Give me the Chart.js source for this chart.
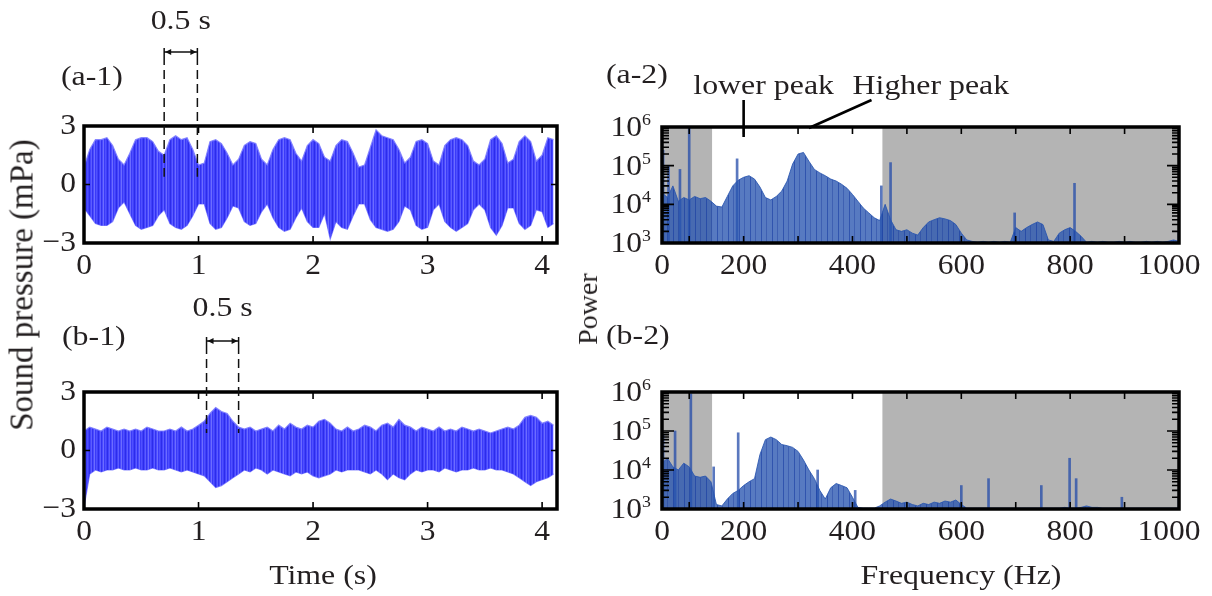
<!DOCTYPE html>
<html>
<head>
<meta charset="utf-8">
<script src="https://cdn.jsdelivr.net/npm/chart.js@4"></script>
<style>
  body { margin: 0; background: #fff; }
  #wrap { position: relative; width: 1212px; height: 596px; overflow: hidden; background: #fff; }
  canvas { position: absolute; left: 0; top: 0; }
  .t { position: absolute; font-family: 'Liberation Serif', 'Times New Roman', serif; color: #231f20; white-space: nowrap; line-height: 1; }
</style>
</head>
<body>
<div id="wrap">
  <canvas id="a1" width="1212" height="596"></canvas>
  <canvas id="b1" width="1212" height="596"></canvas>
  <canvas id="a2" width="1212" height="596"></canvas>
  <canvas id="b2" width="1212" height="596"></canvas>
  <div class="t" style="left:22px;top:285px;font-size:33px;transform:translate(-50%,-50%) rotate(-90deg);">Sound pressure (mPa)</div>
  <div class="t" style="left:588px;top:309px;font-size:28px;transform:translate(-50%,-50%) rotate(-90deg);">Power</div>
  <div class="t" style="left:323px;top:575px;font-size:27px;transform:translate(-50%,-50%) scaleX(1.18);">Time (s)</div>
  <div class="t" style="left:961px;top:575px;font-size:27px;transform:translate(-50%,-50%) scaleX(1.18);">Frequency (Hz)</div>
</div>
<script>
// ---- data ----
// waveform envelopes (mPa), one value every 0.05 s from 0 to 4.10 s
const tStep = 0.05;
const upA = [0.9,1.8,2.3,2.3,2.4,2.0,1.3,1.0,1.6,2.3, 2.4,2.4,2.2,1.7,1.5,2.3,2.5,2.3,2.4,1.8,
             1.0,1.1,2.2,2.3,2.1,1.6,1.0,1.3,2.0,2.2, 2.1,1.3,1.0,1.8,2.3,2.4,2.3,1.6,1.2,2.0,
             2.3,2.1,1.4,1.2,2.0,2.3,2.2,1.6,0.9,1.0, 1.9,2.8,2.5,2.4,2.3,1.8,1.1,1.4,2.2,2.3,
             2.1,1.2,1.0,2.0,2.3,2.4,2.3,2.0,1.2,1.0, 1.3,2.3,2.5,2.1,1.1,1.3,2.2,2.5,2.2,1.2,
             1.5,2.4,2.3];
const loA = [-1.2,-1.6,-2.0,-2.1,-2.1,-1.9,-1.2,-0.9,-1.5,-2.1, -2.3,-2.2,-2.1,-1.6,-1.3,-2.0,-2.2,-2.3,-2.1,-1.6,
             -1.0,-1.0,-2.0,-2.3,-2.2,-1.7,-1.1,-1.2,-1.9,-2.1, -2.0,-1.4,-1.0,-1.7,-2.2,-2.4,-2.3,-1.7,-1.2,-1.9,
             -2.2,-2.2,-1.5,-2.8,-1.9,-2.2,-2.3,-1.6,-1.0,-1.0, -1.8,-2.2,-2.3,-2.4,-2.3,-1.9,-1.1,-1.3,-2.1,-2.3,
             -2.2,-1.3,-1.0,-1.9,-2.2,-2.4,-2.2,-2.0,-1.3,-1.0, -1.3,-2.2,-2.6,-2.1,-1.2,-1.2,-2.0,-2.3,-2.1,-1.3,
             -1.4,-2.2,-2.0];
const upB = [1.0,1.2,1.1,1.0,1.2,1.1,1.0,1.1,1.0,1.1, 1.0,1.2,1.1,1.0,1.0,1.1,1.0,1.2,1.0,1.1,
             1.3,1.5,1.9,2.2,2.0,1.9,1.5,1.2,1.1,1.2, 1.0,1.1,1.2,1.0,1.3,1.1,1.4,1.2,1.1,1.3,
             1.2,1.5,1.6,1.4,1.1,1.0,1.2,1.0,1.1,1.3, 1.2,1.0,1.3,1.4,1.2,1.6,1.3,1.2,1.0,1.2,
             1.1,1.0,1.2,1.0,1.1,1.0,1.2,1.1,1.0,1.1, 1.0,0.9,1.0,1.1,1.2,1.1,1.3,1.7,1.8,1.7,
             1.4,1.5,1.3];
const loB = [-2.9,-1.2,-1.0,-1.1,-1.0,-1.0,-0.9,-1.0,-1.0,-0.9, -1.0,-1.0,-0.9,-1.0,-1.0,-0.9,-1.0,-1.1,-1.0,-1.1,
             -1.2,-1.3,-1.6,-1.9,-1.8,-1.6,-1.4,-1.2,-1.0,-1.1, -0.9,-1.0,-1.2,-1.0,-1.1,-1.2,-1.3,-1.1,-1.2,-1.1,
             -1.3,-1.4,-1.3,-1.2,-1.0,-1.1,-1.0,-1.0,-1.0,-1.1, -1.2,-1.0,-1.2,-1.5,-1.2,-1.4,-1.5,-1.2,-1.0,-1.1,
             -1.0,-1.0,-1.1,-0.9,-1.0,-1.1,-1.0,-1.0,-0.9,-1.0, -1.0,-0.9,-1.0,-1.0,-1.1,-1.2,-1.4,-1.6,-1.8,-1.6,
             -1.5,-1.4,-1.2];

// power spectrum envelopes, one value every 10 Hz from 50 to 1000 Hz
const fStart = 50, fStep = 10;
const envA = [2.0e4,1.5e4,3.0e4,1.2e4,1.5e4,1.3e4,1.6e4,1.4e4,1.5e4,1.2e4,
              9.0e3,8.5e3,1.6e4,3.0e4,4.2e4,5.0e4,5.5e4,4.5e4,2.8e4,1.5e4,
              1.3e4,1.6e4,2.2e4,4.0e4,1.1e5,2.0e5,2.2e5,1.3e5,8.0e4,6.5e4,
              5.5e4,4.5e4,4.0e4,3.3e4,2.6e4,1.8e4,1.2e4,8.0e3,6.0e3,4.5e3,
              3.8e3,1.0e4,4.0e3,2.2e3,2.0e3,2.2e3,1.8e3,1.6e3,2.5e3,3.5e3,
              4.0e3,4.5e3,4.2e3,3.8e3,3.0e3,1.8e3,1.2e3,1.1e3,1.05e3,1.1e3,
              1.05e3,1.1e3,1.05e3,1.1e3,1.05e3,2.5e3,2.0e3,2.5e3,3.0e3,3.5e3,
              3.0e3,1.2e3,1.1e3,1.8e3,2.2e3,2.5e3,2.0e3,1.5e3,1.05e3,1.1e3,
              1.05e3,1.1e3,1.05e3,1.05e3,1.1e3,1.05e3,1.1e3,1.05e3,1.05e3,1.1e3,
              1.05e3,1.1e3,1.05e3,1.1e3,1.2e3,1.1e3];
const envB = [1.5e4,2.0e4,1.2e4,1.0e4,1.5e4,1.2e4,7.0e3,6.5e3,7.0e3,5.0e3,
              1.3e3,1.2e3,1.8e3,2.5e3,3.0e3,4.0e3,5.0e3,6.0e3,2.5e4,6.0e4,
              7.0e4,6.0e4,4.5e4,4.2e4,3.8e4,3.0e4,1.8e4,1.0e4,6.0e3,3.0e3,
              1.8e3,3.5e3,4.5e3,4.0e3,3.5e3,2.0e3,1.1e3,1.05e3,1.05e3,1.05e3,
              1.2e3,1.5e3,1.8e3,1.6e3,1.4e3,1.5e3,1.3e3,1.2e3,1.4e3,1.3e3,
              1.5e3,1.4e3,1.6e3,1.5e3,1.7e3,1.3e3,1.05e3,1.05e3,1.05e3,1.05e3,
              1.05e3,1.05e3,1.05e3,1.05e3,1.05e3,1.05e3,1.05e3,1.05e3,1.05e3,1.05e3,
              1.05e3,1.05e3,1.05e3,1.05e3,1.1e3,1.05e3,1.05e3,1.1e3,1.2e3,1.1e3,
              1.1e3,1.05e3,1.05e3,1.05e3,1.05e3,1.05e3,1.05e3,1.05e3,1.05e3,1.05e3,
              1.05e3,1.05e3,1.05e3,1.05e3,1.05e3,1.05e3,1.05e3,1.05e3,1.05e3,1.2e3];

// narrow spectral lines (Hz, power)
const spikeFA = [52, 62, 83, 100, 188, 453, 470, 698, 808, 1000];
const spikePA = [2.5e5, 1.0e5, 8.0e4, 1.0e6, 1.5e5, 3.0e4, 1.2e5, 6.0e3, 3.5e4, 2.0e3];
const spikeFB = [52, 74, 103, 145, 190, 336, 405, 600, 650, 747, 799, 811, 895, 1000];
const spikePB = [8.0e4, 1.0e5, 9.0e5, 1.2e4, 9.0e4, 1.0e4, 3.0e3, 4.0e3, 6.0e3, 4.0e3, 2.0e4, 6.0e3, 2.0e3, 2.0e3];

// shaded frequency bands (Hz)
const grayBands = [[50, 142], [455, 1000]];

// axis ticks
const timeTicks = [0, 1, 2, 3, 4];
const pressTicks = [3, 0, -3];
const freqTicks = [50, 200, 400, 600, 800, 1000];
const freqTickText = ['0', '200', '400', '600', '800', '1000'];
const powerTicks = [1e3, 1e4, 1e5, 1e6];

// ---- drawing helpers ----
const FONT = "'Liberation Serif', 'Times New Roman', serif";
const INK = '#231f20';

function drawText(ctx, s, x, y, size, sx, align) {
  ctx.save();
  ctx.font = size + 'px ' + FONT;
  ctx.fillStyle = INK;
  ctx.textBaseline = 'middle';
  ctx.textAlign = align || 'center';
  ctx.translate(x, y);
  ctx.scale(sx, 1);
  ctx.fillText(s, 0, 0);
  ctx.restore();
}

// "10" with a raised exponent, right aligned at xRight
function drawPow(ctx, exp, xRight, y) {
  ctx.save();
  ctx.fillStyle = INK;
  ctx.textBaseline = 'alphabetic';
  ctx.font = '17px ' + FONT;
  const ws = ctx.measureText(String(exp)).width * 1.05;
  ctx.save();
  ctx.translate(xRight - ws, y + 9);
  ctx.scale(1.05, 1);
  ctx.font = '30px ' + FONT;
  ctx.textAlign = 'right';
  ctx.fillText('10', 0, 0);
  ctx.restore();
  ctx.translate(xRight - ws, y - 2);
  ctx.scale(1.05, 1);
  ctx.textAlign = 'left';
  ctx.fillText(String(exp), 0, 0);
  ctx.restore();
}

function stripes(colors) {
  const c = document.createElement('canvas');
  c.width = colors.length; c.height = 4;
  const g = c.getContext('2d');
  colors.forEach((col, i) => { g.fillStyle = col; g.fillRect(i, 0, 1, 4); });
  return g.createPattern(c, 'repeat');
}

const framePlugin = {
  id: 'frame',
  beforeDatasetsDraw(chart, args, o) {
    if (!o.bands) return;
    const {top, bottom} = chart.chartArea;
    const x = chart.scales.x, ctx = chart.ctx;
    ctx.save();
    ctx.fillStyle = '#b4b4b4';
    o.bands.forEach(([a, b]) => {
      const p0 = x.getPixelForValue(a), p1 = x.getPixelForValue(b);
      ctx.fillRect(p0, top, p1 - p0, bottom - top);
    });
    ctx.restore();
  },
  afterDraw(chart, args, o) {
    const ctx = chart.ctx;
    const {left, right, top, bottom} = chart.chartArea;
    const x = chart.scales.x, y = chart.scales.y;
    ctx.save();
    ctx.strokeStyle = '#000';
    ctx.lineWidth = 1.6;
    ctx.beginPath();
    o.xMarks.forEach(v => {
      const p = x.getPixelForValue(v);
      ctx.moveTo(p, bottom); ctx.lineTo(p, bottom - 7);
      ctx.moveTo(p, top); ctx.lineTo(p, top + 7);
    });
    o.yMarks.forEach(([v, len]) => {
      const p = y.getPixelForValue(v);
      ctx.moveTo(left, p); ctx.lineTo(left + len, p);
      ctx.moveTo(right, p); ctx.lineTo(right - len, p);
    });
    ctx.stroke();
    ctx.lineWidth = 3.5;
    ctx.strokeRect(left, top, right - left, bottom - top);

    o.xLabels.forEach(([v, s, dx]) => drawText(ctx, s, x.getPixelForValue(v) + (dx || 0), bottom + 23, 30, 1.05, 'center'));
    if (o.log) {
      o.yLabels.forEach(v => drawPow(ctx, Math.round(Math.log10(v)), left - 11, y.getPixelForValue(v)));
    } else {
      o.yLabels.forEach(([v, s]) => drawText(ctx, s, left - 8, y.getPixelForValue(v), 30, 1.05, 'right'));
    }
    if (o.extra) o.extra(chart, ctx);
    ctx.restore();
  }
};

// dashed 0.5 s window with the double arrow above it
function bracket(chart, ctx, t0, t1, bottomVal, rise, gap) {
  const x = chart.scales.x, y = chart.scales.y, top = chart.chartArea.top;
  const x0 = x.getPixelForValue(t0), x1 = x.getPixelForValue(t1);
  const yA = top - rise, yEnd = y.getPixelForValue(bottomVal);
  ctx.save();
  ctx.strokeStyle = '#111';
  ctx.fillStyle = '#111';
  ctx.lineWidth = 1.5;
  ctx.setLineDash([9, 5]);
  ctx.beginPath();
  ctx.moveTo(x0, yA + 4); ctx.lineTo(x0, yEnd);
  ctx.moveTo(x1, yA + 4); ctx.lineTo(x1, yEnd);
  ctx.stroke();
  ctx.setLineDash([]);
  ctx.beginPath();
  ctx.moveTo(x0, yA); ctx.lineTo(x1, yA);
  ctx.moveTo(x0, yA - 4); ctx.lineTo(x0, yA + 4);
  ctx.moveTo(x1, yA - 4); ctx.lineTo(x1, yA + 4);
  ctx.stroke();
  ctx.beginPath();
  ctx.moveTo(x0 + 1, yA); ctx.lineTo(x0 + 7, yA - 3); ctx.lineTo(x0 + 7, yA + 3); ctx.closePath();
  ctx.moveTo(x1 - 1, yA); ctx.lineTo(x1 - 7, yA - 3); ctx.lineTo(x1 - 7, yA + 3); ctx.closePath();
  ctx.fill();
  ctx.restore();
  drawText(ctx, '0.5 s', (x0 + x1) / 2, yA - gap, 27, 1.18, 'center');
}

// ---- chart builders ----
const waveFill = stripes(['#4444ff', '#5c5cff', '#3232f2', '#4a4aff', '#6c6cff', '#3a3af8', '#5050ff', '#4040fa', '#2c2cea']);
const specFill = stripes(['rgba(40,85,175,0.78)', 'rgba(40,85,175,0.78)', 'rgba(25,65,165,0.9)', 'rgba(40,85,175,0.78)',
                          'rgba(40,85,175,0.78)', 'rgba(40,85,175,0.78)', 'rgba(40,85,175,0.78)', 'rgba(30,70,165,0.86)',
                          'rgba(40,85,175,0.78)', 'rgba(40,85,175,0.78)', 'rgba(40,85,175,0.78)']);

function waveSets(up, lo) {
  const edge = 'rgba(125,125,255,0.9)';
  return [
    { data: up.map((v, i) => ({x: i * tStep, y: v})), fill: '+1', backgroundColor: waveFill,
      borderColor: edge, borderWidth: 1.2, pointRadius: 0, tension: 0 },
    { data: lo.map((v, i) => ({x: i * tStep, y: v})), fill: false,
      borderColor: edge, borderWidth: 1.2, pointRadius: 0, tension: 0 }
  ];
}

function specSets(env, sf, sp) {
  return [
    { type: 'line', data: env.map((v, i) => ({x: fStart + i * fStep, y: v})), fill: 'start',
      backgroundColor: specFill, borderColor: 'rgba(40,85,175,0.85)',
      borderWidth: 1, pointRadius: 0, tension: 0 },
    { type: 'bar', data: sf.map((f, i) => ({x: f, y: [1e3, sp[i]]})),
      backgroundColor: 'rgba(35,75,170,0.75)', barThickness: 2 }
  ];
}

function makeChart(id, datasets, pad, xs, ys, frame) {
  return new Chart(document.getElementById(id), {
    type: 'line',
    data: {datasets},
    options: {
      responsive: false, animation: false, events: [], devicePixelRatio: 1,
      layout: {padding: pad},
      scales: {x: Object.assign({display: false}, xs), y: Object.assign({display: false}, ys)},
      plugins: {legend: {display: false}, tooltip: {enabled: false}, frame}
    },
    plugins: [framePlugin]
  });
}

const timeX = {type: 'linear', min: 0, max: 4.13};
const pressY = {type: 'linear', min: -3, max: 3};
const freqX = {type: 'linear', min: 50, max: 1000, offset: false};
const powY = {type: 'logarithmic', min: 1e3, max: 1e6};

const timeFrame = {
  xMarks: [1, 2, 3, 4],
  yMarks: [[0, 6]],
  xLabels: timeTicks.map(v => [v, String(v)]),
  yLabels: pressTicks.map(v => [v, v < 0 ? '\u2212' + Math.abs(v) : String(v)])
};
const logMarks = [];
[1e3, 1e4, 1e5].forEach(d => [1, 2, 3, 4, 5, 6, 7, 8, 9].forEach(m => logMarks.push([m * d, m === 1 ? 12 : 7])));
const specFrame = {
  log: true,
  bands: grayBands,
  xMarks: [100, 200, 300, 400, 500, 600, 700, 800, 900],
  yMarks: logMarks,
  xLabels: freqTicks.map((v, i) => [v, freqTickText[i], v === 1000 ? -10 : 0]),
  yLabels: powerTicks
};

makeChart('a1', waveSets(upA, loA), {left: 84, right: 655, top: 126, bottom: 353}, timeX, pressY,
  Object.assign({}, timeFrame, {extra(chart, ctx) {
    const {left, top} = chart.chartArea;
    drawText(ctx, '(a-1)', left - 23, top - 48, 27, 1.18, 'left');
    bracket(chart, ctx, 0.70, 0.99, 0.4, 74, 30);
  }}));

makeChart('b1', waveSets(upB, loB), {left: 84, right: 655, top: 392, bottom: 87}, timeX, pressY,
  Object.assign({}, timeFrame, {extra(chart, ctx) {
    const {left, top} = chart.chartArea;
    drawText(ctx, '(b-1)', left - 22, top - 54, 27, 1.18, 'left');
    bracket(chart, ctx, 1.07, 1.35, 0.9, 51, 32);
  }}));

makeChart('a2', specSets(envA, spikeFA, spikePA), {left: 662, right: 33, top: 127, bottom: 353}, freqX, powY,
  Object.assign({}, specFrame, {extra(chart, ctx) {
    const {left, top} = chart.chartArea;
    const x = chart.scales.x;
    drawText(ctx, '(a-2)', left - 56, top - 51, 27, 1.18, 'left');
    ctx.save();
    ctx.strokeStyle = '#000';
    ctx.lineWidth = 2.6;
    ctx.beginPath();
    const xl = x.getPixelForValue(200);
    ctx.moveTo(xl, top - 27); ctx.lineTo(xl, top + 10);
    ctx.moveTo(x.getPixelForValue(320), top + 1); ctx.lineTo(x.getPixelForValue(435), top - 27);
    ctx.stroke();
    ctx.restore();
    drawText(ctx, 'lower peak', xl + 20, top - 40, 27, 1.18, 'center');
    drawText(ctx, 'Higher peak', x.getPixelForValue(544), top - 40, 27, 1.18, 'center');
  }}));

makeChart('b2', specSets(envB, spikeFB, spikePB), {left: 662, right: 33, top: 392, bottom: 87}, freqX, powY,
  Object.assign({}, specFrame, {extra(chart, ctx) {
    const {left, top} = chart.chartArea;
    drawText(ctx, '(b-2)', left - 56, top - 55, 27, 1.18, 'left');
  }}));
</script>
</body>
</html>
